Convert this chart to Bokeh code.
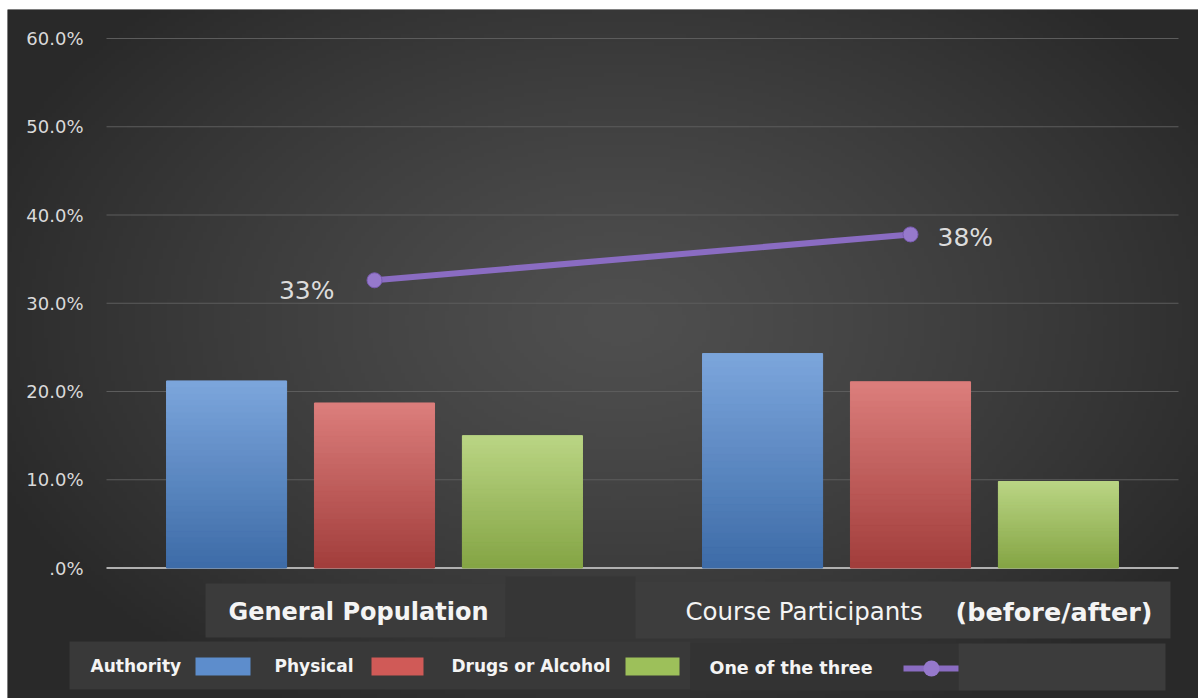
import numpy as np
from bokeh.plotting import figure
from bokeh.models import Range1d, Label, BoxAnnotation, ColumnDataSource
from bokeh.embed import file_html
from bokeh.resources import INLINE
from bokeh.core.properties import value

# ---------------- data ----------------
categories = ["General Population", "Course Participants (before/after)"]
series_names = ["Authority", "Physical", "Drugs or Alcohol"]
authority = [0.212, 0.243]
physical = [0.187, 0.211]
drugs_alcohol = [0.150, 0.098]
line_name = "One of the three"
one_of_three = [0.326, 0.378]
one_of_three_labels = ["33%", "38%"]
y_ticks = [0.0, 0.1, 0.2, 0.3, 0.4, 0.5, 0.6]
y_tick_labels = [".0%", "10.0%", "20.0%", "30.0%", "40.0%", "50.0%", "60.0%"]

# ---------------- layout helpers ----------------
W, H = 1191, 689          # figure placed at page offset (7, 9)
PX_PER_UNIT = 882.5       # pixels per 100 %
CAT_PX = 536.0            # pixels per category slot


def X(px):  # page pixel -> x data coordinate (category slot units)
    return (px - 106) / CAT_PX


def Y(py):  # page pixel -> y data coordinate
    return (567.5 - py) / PX_PER_UNIT


p = figure(width=W, height=H, x_range=Range1d(X(7), X(1198)), y_range=Range1d(Y(698), Y(9)),
           x_axis_location=None, y_axis_location=None,
           output_backend="svg", toolbar_location=None,
           min_border_left=0, min_border_right=0, min_border_top=0, min_border_bottom=0)
p.margin = (9, 0, 0, 7)
p.border_fill_color = "#2e2e2e"
p.background_fill_color = "#3a3a3a"
p.outline_line_color = None
p.xgrid.visible = False
p.ygrid.visible = False

# background radial gradient over the whole chart
gw, gh = 300, 174
xs = np.linspace(7, 1198, gw)
ys = np.linspace(698, 9, gh)
XX, YY = np.meshgrid(xs, ys)
r = np.sqrt(((XX - 620) / 680.0) ** 2 + ((YY - 320) / 450.0) ** 2)
t = np.clip(r, 0, 1) ** 1.25
g = (0x4f - (0x4f - 0x29) * t).astype(np.uint32)
img = (np.uint32(255) << 24) | (g << 16) | (g << 8) | g
p.image_rgba(image=[img], x=X(7), y=Y(698), dw=X(1198) - X(7), dh=Y(9) - Y(698))

# gridlines and y tick labels (from the tick arrays)
p.segment(x0=X(106), x1=X(1178), y0=y_ticks[1:], y1=y_ticks[1:], line_color="#5c5c5c", line_width=1)
p.segment(x0=X(106), x1=X(1178), y0=y_ticks[:1], y1=y_ticks[:1], line_color="#b0b0b0", line_width=2)
p.text(x=X(83), y=y_ticks, text=y_tick_labels, text_align="right", text_baseline="middle",
       text_font=value("DejaVu Sans"), text_font_size="18px", text_color="#dadada")


# bars with vertical gradient
def hex2rgb(h):
    return tuple(int(h[i:i + 2], 16) for i in (1, 3, 5))


def mix(c0, c1, f):
    a, b = hex2rgb(c0), hex2rgb(c1)
    return "#%02x%02x%02x" % tuple(int(round(a[i] + (b[i] - a[i]) * f)) for i in range(3))


cat_x = [i + 0.5 for i in range(len(categories))]
bar_cols = [("#3d6ba7", "#7ca6dc"), ("#a13d3b", "#dc7e7c"), ("#84a444", "#bad584")]
offsets = [-0.276, 0.0, 0.276]
bar_w = 0.224
nsl = 30
for vals, off, (c0, c1) in zip([authority, physical, drugs_alcohol], offsets, bar_cols):
    bx = [cx + off for cx in cat_x]
    p.vbar(x=bx, bottom=0, top=vals, width=bar_w, fill_color=mix(c0, c1, 0.5), line_color=None)
    xcol, bot, top, col = [], [], [], []
    for xv, v in zip(bx, vals):
        for k in range(nsl):
            xcol.append(xv)
            bot.append(v * k / nsl)
            top.append(v * (k + 1) / nsl)
            col.append(mix(c0, c1, (k + 0.5) / nsl))
    src = ColumnDataSource(dict(x=xcol, bottom=bot, top=top, color=col))
    p.vbar(x="x", bottom="bottom", top="top", width=bar_w, source=src,
           fill_color="color", line_color="color", line_width=1)

# line series
purple = "#8a6cc2"
p.line(x=cat_x, y=one_of_three, line_color=purple, line_width=6)
p.scatter(x=cat_x, y=one_of_three, size=15, fill_color="#9679cc", line_color="#7a5cb2", line_width=1)
p.text(x=cat_x[:1], y=one_of_three[:1], text=one_of_three_labels[:1],
       text_align="right", text_baseline="middle", x_offset=-40, y_offset=10,
       text_font=value("DejaVu Sans"), text_font_size="25px", text_color="#dcdcdc")
p.text(x=cat_x[1:], y=one_of_three[1:], text=one_of_three_labels[1:],
       text_align="left", text_baseline="middle", x_offset=27, y_offset=3,
       text_font=value("DejaVu Sans"), text_font_size="25px", text_color="#dcdcdc")


# decorative boxes
def box(l, r_, t_, b, color, **kw):
    p.add_layout(BoxAnnotation(left=X(l), right=X(r_), top=Y(t_), bottom=Y(b),
                               fill_color=color, fill_alpha=1.0, line_color=None, **kw))


box(205, 505, 583, 637, "#3b3b3b")
box(505, 635, 576, 637, "#363636")
box(635, 1170, 581, 638, "#3d3d3d")
box(69, 690, 641, 689, "#393939")
box(690, 958, 643, 690, "#333333")
box(958, 1165, 643, 690, "#3c3c3c")


def lab(px, py, text, size, bold=True, color="#f4f4f4"):
    p.add_layout(Label(x=X(px), y=Y(py), text=text, text_font="DejaVu Sans",
                       text_font_size=size, text_font_style="bold" if bold else "normal",
                       text_color=color, text_align="left", text_baseline="middle"))


lab(228, 611, categories[0], "24px")
lab(685, 611, "Course Participants", "24.5px", bold=False)
lab(955, 611, "(before/after)", "25.5px")

legend_x = [90, 274, 451]
for nm, lx in zip(series_names, legend_x):
    lab(lx, 665, nm, "17px")
lab(709, 667, line_name, "17.5px")

swatches = [(195, 250, "#5d8dcc"), (371, 423, "#d05a57"), (625, 679, "#9dc05a")]
for l, r_, c in swatches:
    box(l, r_, 657, 675, c)
box(903, 958, 665, 671, purple)
box(923, 939, 660, 676, "#9679cc", border_radius=8)

open("out.html", "w").write(file_html(p, INLINE))
